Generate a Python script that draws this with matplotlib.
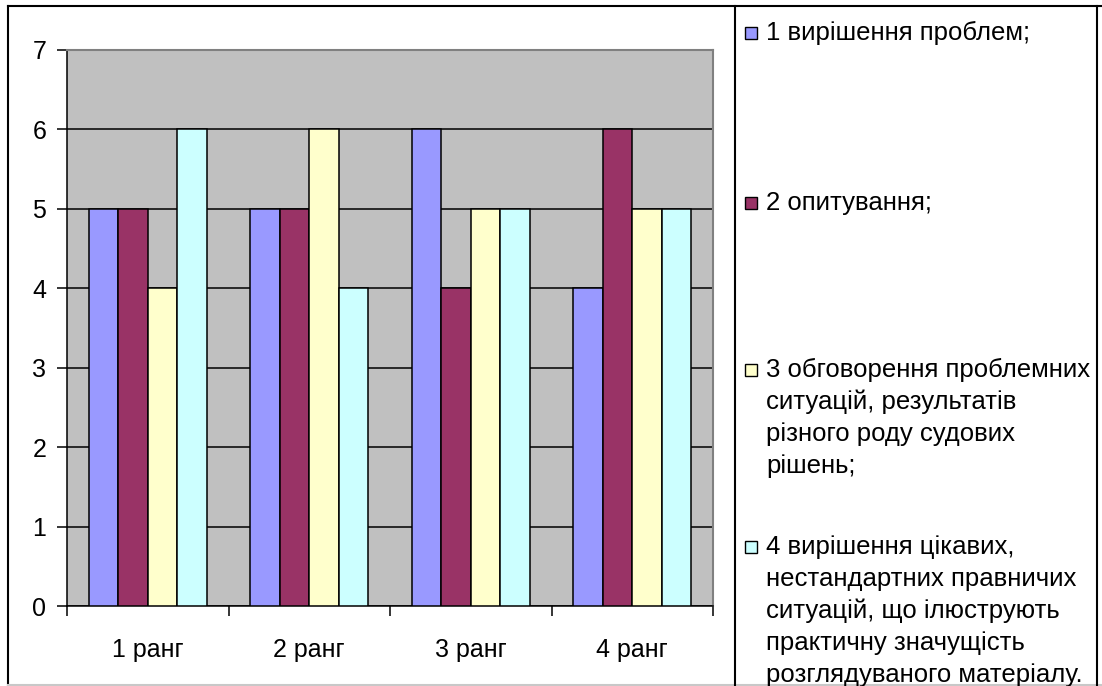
import matplotlib.pyplot as plt
from matplotlib.patches import Rectangle
from matplotlib.lines import Line2D
import numpy as np

# -----------------------------------------------
# ДАНІ
# -----------------------------------------------
categories = ["1 ранг", "2 ранг", "3 ранг", "4 ранг"]
s1 = [5, 5, 6, 4]   # вирішення проблем
s2 = [5, 5, 4, 6]   # опитування
s3 = [4, 6, 5, 5]   # обговорення
s4 = [6, 4, 5, 5]   # цікаві ситуації
series = [s1, s2, s3, s4]
labels = [
    "1 вирішення проблем;",
    "2 опитування;",
    "3 обговорення проблемних\nситуацій, результатів\nрізного роду судових\nрішень;",
    "4 вирішення цікавих,\nнестандартних правничих\nситуацій, що ілюструють\nпрактичну значущість\nрозглядуваного матеріалу.",
]
colors = ["#9999FF", "#993366", "#FFFFCC", "#CCFFFF"]
yticks = list(range(0, 8))

plt.rcParams["font.family"] = ["Liberation Sans", "DejaVu Sans"]

W, H = 1102, 686
fig = plt.figure(figsize=(W / 100, H / 100), dpi=100)

def fx(px):
    return px / W

def fy(py):
    return 1 - py / H

# рамки (зовнішня і легенди)
for xs, ys, col in [
    ([8, 8], [6, 685], "black"),
    ([8, W + 5], [6, 6], "black"),
    ([8, W + 5], [685, 685], "#C8C8C8"),
    ([735, 735], [6, H + 5], "black"),
    ([1097, 1097], [6, H + 5], "black"),
]:
    fig.lines.append(Line2D([fx(v) for v in xs], [fy(v) for v in ys],
                            transform=fig.transFigure, color=col, linewidth=1.5))

ax = fig.add_axes([fx(67), fy(606), (713 - 67) / W, (606 - 50) / H])
ax.set_facecolor("#C0C0C0")

x = np.arange(1, len(categories) + 1)
w = 0.1827
for i, (vals, c) in enumerate(zip(series, colors)):
    ax.bar(x + (i - 1.5) * w, vals, width=w, color=c, edgecolor="black",
           linewidth=1.1, zorder=3)

ax.set_xlim(0.5, len(categories) + 0.5)
ax.set_ylim(0, 7)
ax.set_yticks(yticks)
ax.yaxis.grid(True, color="black", linewidth=1.1, zorder=1)
ax.set_axisbelow(True)

ax.set_xticks(np.arange(0.5, len(categories) + 1, 1))
ax.set_xticklabels([])
ax.set_xticks(x, minor=True)
ax.set_xticklabels(categories, minor=True)
ax.tick_params(axis="x", which="major", direction="out", length=7, width=1.1)
ax.tick_params(axis="x", which="minor", length=0, pad=23, labelsize=18)
ax.tick_params(axis="y", direction="out", length=7, width=1.1, pad=8, labelsize=18)

for side in ["top", "right"]:
    ax.spines[side].set_color("#808080")
    ax.spines[side].set_linewidth(1.5)
for side in ["left", "bottom"]:
    ax.spines[side].set_color("black")
    ax.spines[side].set_linewidth(1.1)

# -----------------------------------------------
# ЛЕГЕНДА
# -----------------------------------------------
entry_y = [33, 203, 370, 547]
line_h = 32
for lab, c, y0 in zip(labels, colors, entry_y):
    fig.patches.append(Rectangle((fx(745), fy(y0 + 6)), 12 / W, 12 / H,
                                 transform=fig.transFigure, facecolor=c,
                                 edgecolor="black", linewidth=1.0))
    for k, line in enumerate(lab.split("\n")):
        fig.text(fx(766), fy(y0 + k * line_h), line, fontsize=18.5,
                 va="center", ha="left")

fig.savefig("out.png", dpi=100)
